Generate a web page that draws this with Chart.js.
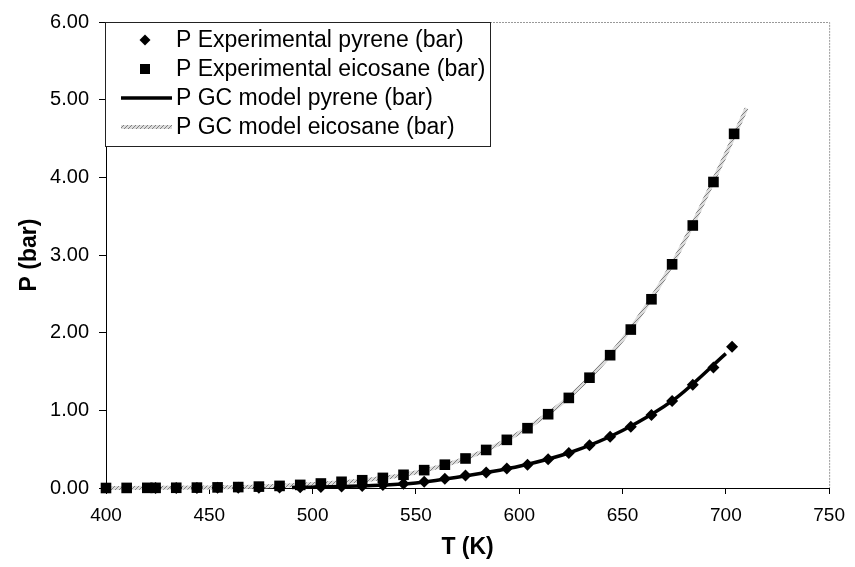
<!DOCTYPE html>
<html><head><meta charset="utf-8">
<script src="https://cdn.jsdelivr.net/npm/chart.js@4/dist/chart.umd.min.js"></script>
<style>html,body{margin:0;padding:0;background:#fff;} #wrap{width:855px;height:567px;}</style>
</head><body><div id="wrap"><canvas id="c" width="855" height="567"></canvas></div>
<script>
// ---- data ----
const xTicks = [400, 450, 500, 550, 600, 650, 700, 750];
const yTicks = [0, 1, 2, 3, 4, 5, 6];
const seriesLabels = [
  'P Experimental pyrene (bar)',
  'P Experimental eicosane (bar)',
  'P GC model pyrene (bar)',
  'P GC model eicosane (bar)'
];
const expPyrT = [424, 434, 444, 454, 464, 474, 484, 494, 504, 514, 524, 534, 544, 554, 564, 574, 584, 594, 604, 614, 624, 634, 644, 654, 664, 674, 684, 694, 703];
const expPyrP = [0.000, 0.001, 0.001, 0.002, 0.003, 0.004, 0.006, 0.009, 0.013, 0.019, 0.027, 0.040, 0.055, 0.080, 0.12, 0.16, 0.20, 0.25, 0.30, 0.37, 0.45, 0.55, 0.66, 0.79, 0.94, 1.12, 1.33, 1.55, 1.82];
const expEicT = [400, 410, 420, 424, 434, 444, 454, 464, 474, 484, 494, 504, 514, 524, 534, 544, 554, 564, 574, 584, 594, 604, 614, 624, 634, 644, 654, 664, 674, 684, 694, 704];
const expEicP = [0.000, 0.001, 0.002, 0.002, 0.003, 0.005, 0.008, 0.012, 0.018, 0.027, 0.040, 0.058, 0.080, 0.10, 0.13, 0.17, 0.23, 0.30, 0.38, 0.49, 0.62, 0.77, 0.95, 1.16, 1.42, 1.71, 2.04, 2.43, 2.88, 3.38, 3.94, 4.56];
const modPyrT = [490, 500, 525, 550, 575, 600, 625, 650, 675, 700];
const modPyrP = [0.008, 0.011, 0.028, 0.065, 0.16, 0.28, 0.46, 0.74, 1.14, 1.73];
const modEicT = [400, 425, 450, 475, 500, 525, 550, 575, 600, 625, 650, 675, 700, 710];
const modEicP = [0.000, 0.002, 0.007, 0.019, 0.050, 0.10, 0.20, 0.39, 0.71, 1.19, 1.91, 2.93, 4.30, 4.89];

const pts = (xs, ys) => xs.map((x, i) => ({x: x, y: ys[i]}));

// hatched grey pattern for the eicosane model line
function makePattern() {
  const pc = document.createElement('canvas');
  pc.width = 4; pc.height = 4;
  const p = pc.getContext('2d');
  p.fillStyle = '#dcdcdc'; p.fillRect(0, 0, 4, 4);
  p.fillStyle = '#808080';
  p.fillRect(0, 0, 1, 1); p.fillRect(2, 2, 1, 1); p.fillRect(1, 3, 1, 1); p.fillRect(3, 1, 1, 1);
  return p.createPattern(pc, 'repeat');
}
const ctx0 = document.getElementById('c').getContext('2d');
const hatch = makePattern();

const FONT = "'Liberation Sans', Arial, sans-serif";

const frame = {
  id: 'frame',
  beforeDatasetsDraw(chart) {
    const {ctx, chartArea: a} = chart;
    ctx.save();
    ctx.strokeStyle = '#999';
    ctx.lineWidth = 1;
    ctx.setLineDash([2, 1]);
    ctx.beginPath();
    ctx.moveTo(a.left, a.top + 0.5); ctx.lineTo(a.right + 0.5, a.top + 0.5);
    ctx.lineTo(a.right + 0.5, a.bottom);
    ctx.stroke();
    ctx.restore();
  },
  afterDatasetsDraw(chart) {
    const {ctx} = chart;
    ctx.save();
    const bx = 105.5, by = 22.5, bw = 385, bh = 124;
    ctx.fillStyle = '#fff';
    ctx.fillRect(bx, by, bw, bh);
    ctx.strokeStyle = '#222';
    ctx.lineWidth = 1;
    ctx.strokeRect(bx, by, bw, bh);
    const rowY = [40, 69, 98, 127];
    const mx = 145;
    ctx.font = '23px ' + FONT;
    ctx.fillStyle = '#000';
    ctx.textBaseline = 'middle';
    ctx.textAlign = 'left';
    seriesLabels.forEach((lab, i) => {
      const y = rowY[i];
      if (i === 0) {
        ctx.beginPath();
        ctx.moveTo(mx, y - 5.5); ctx.lineTo(mx + 5.5, y); ctx.lineTo(mx, y + 5.5); ctx.lineTo(mx - 5.5, y);
        ctx.closePath(); ctx.fill();
      } else if (i === 1) {
        ctx.fillRect(mx - 5, y - 5, 10, 10);
      } else if (i === 2) {
        ctx.strokeStyle = '#000'; ctx.lineWidth = 3.5;
        ctx.beginPath(); ctx.moveTo(121, y); ctx.lineTo(172, y); ctx.stroke();
      } else {
        ctx.strokeStyle = hatch; ctx.lineWidth = 4;
        ctx.beginPath(); ctx.moveTo(121, y); ctx.lineTo(172, y); ctx.stroke();
      }
      ctx.fillStyle = '#000';
      ctx.fillText(lab, 176, y + 1);
    });
    ctx.restore();
  }
};

new Chart(ctx0, {
  type: 'scatter',
  data: {
    datasets: [
      {label: seriesLabels[0], data: pts(expPyrT, expPyrP), showLine: false, pointStyle: 'rectRot', pointRadius: 6,
       pointBackgroundColor: '#000', pointBorderColor: '#000', pointBorderWidth: 0, order: 0, clip: false},
      {label: seriesLabels[1], data: pts(expEicT, expEicP), showLine: false, pointStyle: 'rect', pointRadius: 7.5,
       pointBackgroundColor: '#000', pointBorderColor: '#000', pointBorderWidth: 0, order: 1, clip: false},
      {label: seriesLabels[2], data: pts(modPyrT, modPyrP), showLine: true, pointRadius: 0, borderColor: '#000',
       borderWidth: 3.5, cubicInterpolationMode: 'monotone', order: 2, clip: false},
      {label: seriesLabels[3], data: pts(modEicT, modEicP), showLine: true, pointRadius: 0, borderColor: hatch,
       borderWidth: 4, cubicInterpolationMode: 'monotone', order: 3, clip: false}
    ]
  },
  options: {
    responsive: false,
    animation: false,
    devicePixelRatio: 1,
    layout: {padding: {top: 22, right: 21, left: 0, bottom: 0}},
    plugins: {legend: {display: false}, tooltip: {enabled: false}, title: {display: false}},
    scales: {
      x: {
        type: 'linear', min: 400, max: 750,
        afterBuildTicks: s => { s.ticks = xTicks.map(v => ({value: v})); },
        afterFit: s => { s.height = 79; },
        grid: {drawOnChartArea: false, drawTicks: true, tickLength: 6, color: '#000', lineWidth: 1},
        border: {display: true, color: '#000', width: 1},
        ticks: {color: '#000', font: {family: FONT, size: 19}, padding: 10, maxRotation: 0, callback: v => String(v)},
        title: {display: true, text: 'T (K)', color: '#000', font: {family: FONT, size: 23, weight: 'bold'}, padding: {top: 0, bottom: 6}}
      },
      y: {
        type: 'linear', min: 0, max: 6,
        afterBuildTicks: s => { s.ticks = yTicks.map(v => ({value: v})); },
        afterFit: s => { s.width = 106; },
        grid: {drawOnChartArea: false, drawTicks: true, tickLength: 7, color: '#000', lineWidth: 1},
        border: {display: true, color: '#000', width: 1},
        ticks: {color: '#000', font: {family: FONT, size: 20}, padding: 10, callback: v => Number(v).toFixed(2)},
        title: {display: true, text: 'P (bar)', color: '#000', font: {family: FONT, size: 23, weight: 'bold'}, padding: {top: 16, bottom: 0}}
      }
    }
  },
  plugins: [frame]
});
</script>
</body></html>
